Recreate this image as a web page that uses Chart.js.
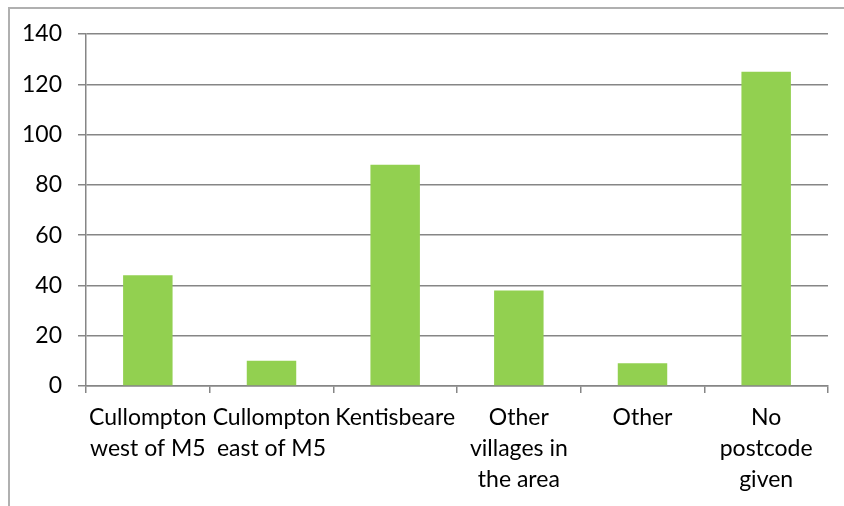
<!DOCTYPE html>
<html>
<head>
<meta charset="utf-8">
<script src="https://cdn.jsdelivr.net/npm/chart.js@4/dist/chart.umd.min.js"></script>
<style>
  html, body { margin: 0; padding: 0; background: #fff; overflow: hidden; }
  #wrap { position: relative; width: 844px; height: 506px; }
  #frame { position: absolute; left: 8px; top: 7px; width: 900px; height: 600px;
           border-left: 2px solid #b0b0b0; border-top: 2px solid #b0b0b0; }
  canvas { position: absolute; left: 0; top: 0; }
</style>
</head>
<body>
<div id="wrap">
  <div id="frame"></div>
  <canvas id="chart" width="844" height="506"></canvas>
</div>
<script>
// categories (multi-line labels like the original)
const categories = [
  ["Cullompton", "west of M5"],
  ["Cullompton", "east of M5"],
  ["Kentisbeare"],
  ["Other", "villages in", "the area"],
  ["Other"],
  ["No", "postcode", "given"]
];
const counts = [44, 10, 88, 38, 9, 125];
const yMax = 140;
const yStep = 20;

const barGreen = "#92d050";
const axisGray = "#868686";
const font = { family: "Lato, 'Open Sans', sans-serif", size: 23 };

const config = {
  type: "bar",
  data: {
    labels: categories,
    datasets: [
      {
        data: counts,
        backgroundColor: barGreen,
        borderWidth: 0,
        categoryPercentage: 1,
        barPercentage: 0.4
      }
    ]
  },
  options: {
    responsive: false,
    animation: false,
    layout: { padding: { top: 34, right: 16, left: 0, bottom: 0 } },
    plugins: {
      legend: { display: false },
      tooltip: { enabled: false }
    },
    scales: {
      x: {
        grid: {
          display: true,
          drawOnChartArea: false,
          drawTicks: true,
          tickLength: 7,
          color: axisGray,
          lineWidth: 1.5
        },
        border: { color: axisGray, width: 1.5 },
        ticks: {
          color: "#000",
          font: { ...font, lineHeight: 1.35 },
          padding: 9,
          maxRotation: 0,
          minRotation: 0,
          autoSkip: false
        },
        afterFit: (scale) => { scale.height = 120; }
      },
      y: {
        min: 0,
        max: yMax,
        grid: {
          color: axisGray,
          lineWidth: 1.5,
          tickLength: 8
        },
        border: { color: axisGray, width: 1.5 },
        ticks: {
          stepSize: yStep,
          color: "#000",
          font: font,
          padding: 16
        },
        afterFit: (scale) => { scale.width = 86; }
      }
    }
  }
};

new Chart(document.getElementById("chart"), config);
</script>
</body>
</html>
